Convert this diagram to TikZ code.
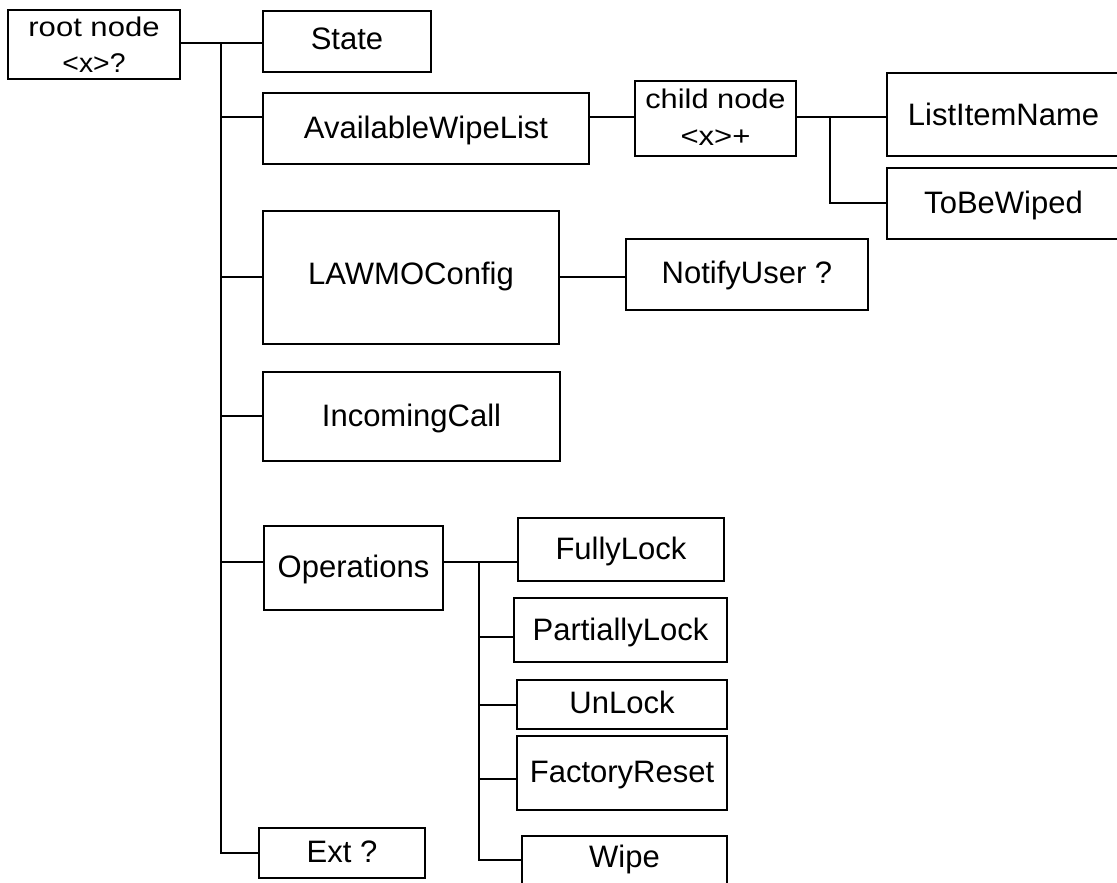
\documentclass[tikz,border=0pt]{standalone}
\usepackage{graphicx}
\usepackage{fontspec}
\setmainfont{Liberation Sans}
\newcommand{\wide}[2]{\scalebox{#1}[1]{#2}}
\begin{document}
\begin{tikzpicture}[x=1pt,y=-1pt,
  box/.style={draw, line width=2pt, inner sep=0pt, align=center,
    font=\fontsize{31}{37}\selectfont, text height=22pt, text depth=3pt},
  twoline/.style={font=\fontsize{27}{36.5}\selectfont},
  conn/.style={line width=2pt}]
\useasboundingbox (0,0) rectangle (1117,883);
\clip (0,0) rectangle (1117,883);
% boxes
\node[box, twoline, text height=57pt, text depth=0pt, minimum width=172pt, minimum height=69pt] (root) at (94,44.5) {\wide{1.15}{root node}\\\wide{1.05}{\textless x\textgreater?}};
\node[box, text depth=5pt, minimum width=168pt, minimum height=61pt] (State) at (347,41.5) {State};
\node[box, text depth=1pt, minimum width=326pt, minimum height=71pt] (AWL) at (426,128.5) {AvailableWipeList};
\node[box, twoline, text height=55pt, text depth=2pt, minimum width=161pt, minimum height=75pt] (child) at (715.5,118.5) {\wide{1.14}{child node}\\\wide{1.15}{\textless x\textgreater+}};
\node[box, text depth=0pt, minimum width=233pt, minimum height=83pt] (LIN) at (1003.5,114.5) {ListItemName};
\node[box, minimum width=233pt, minimum height=71pt] (TBW) at (1003.5,203.5) {ToBeWiped};
\node[box, text depth=8pt, minimum width=296pt, minimum height=133pt] (LAWMO) at (411,277.5) {LAWMOConfig};
\node[box, text depth=5pt, minimum width=242pt, minimum height=71pt] (Notify) at (747,274.5) {NotifyUser ?};
\node[box, text depth=2pt, minimum width=297pt, minimum height=89pt] (Incoming) at (411.5,416.5) {IncomingCall};
\node[box, text depth=4pt, minimum width=179pt, minimum height=84pt] (Ops) at (353.5,568) {Operations};
\node[box, minimum width=206pt, minimum height=63pt] (Fully) at (621,549.5) {FullyLock};
\node[box, text depth=2pt, minimum width=213pt, minimum height=64pt] (Partially) at (620.5,630) {PartiallyLock};
\node[box, text depth=4pt, minimum width=210pt, minimum height=49pt] (Un) at (622,704.5) {UnLock};
\node[box, text depth=4pt, minimum width=210pt, minimum height=74pt] (Factory) at (622,773) {FactoryReset};
\node[box, text depth=24pt, minimum width=205pt, minimum height=64pt] (Wipe) at (624.5,868) {Wipe};
\node[box, minimum width=166pt, minimum height=50pt] (Ext) at (342,853) {Ext ?};
% junction coordinates
\coordinate (t0) at (221,43);
\coordinate (tAWL) at (221,117);
\coordinate (tLAW) at (221,277);
\coordinate (tInc) at (221,416);
\coordinate (tOps) at (221,562);
\coordinate (tExt) at (221,853);
\coordinate (c1) at (830,117);
\coordinate (c2) at (830,203);
\coordinate (o0) at (479,562);
\coordinate (o1) at (479,637);
\coordinate (o2) at (479,705);
\coordinate (o3) at (479,779);
\coordinate (o4) at (479,860);
% connectors
\draw[conn] (root.east |- t0) -- (State.west |- t0);
\draw[conn] (t0) -- (tExt) -- (Ext.west |- tExt);
\draw[conn] (tAWL) -- (tAWL -| AWL.west);
\draw[conn] (tLAW) -- (tLAW -| LAWMO.west);
\draw[conn] (tInc) -- (tInc -| Incoming.west);
\draw[conn] (tOps) -- (tOps -| Ops.west);
\draw[conn] (AWL.east |- tAWL) -- (child.west |- tAWL);
\draw[conn] (child.east |- c1) -- (LIN.west |- c1);
\draw[conn] (c1) -- (c2) -- (c2 -| TBW.west);
\draw[conn] (LAWMO.east |- tLAW) -- (Notify.west |- tLAW);
\draw[conn] (Ops.east |- o0) -- (Fully.west |- o0);
\draw[conn] (o0) -- (o4) -- (o4 -| Wipe.west);
\draw[conn] (o1) -- (o1 -| Partially.west);
\draw[conn] (o2) -- (o2 -| Un.west);
\draw[conn] (o3) -- (o3 -| Factory.west);
\end{tikzpicture}
\end{document}
